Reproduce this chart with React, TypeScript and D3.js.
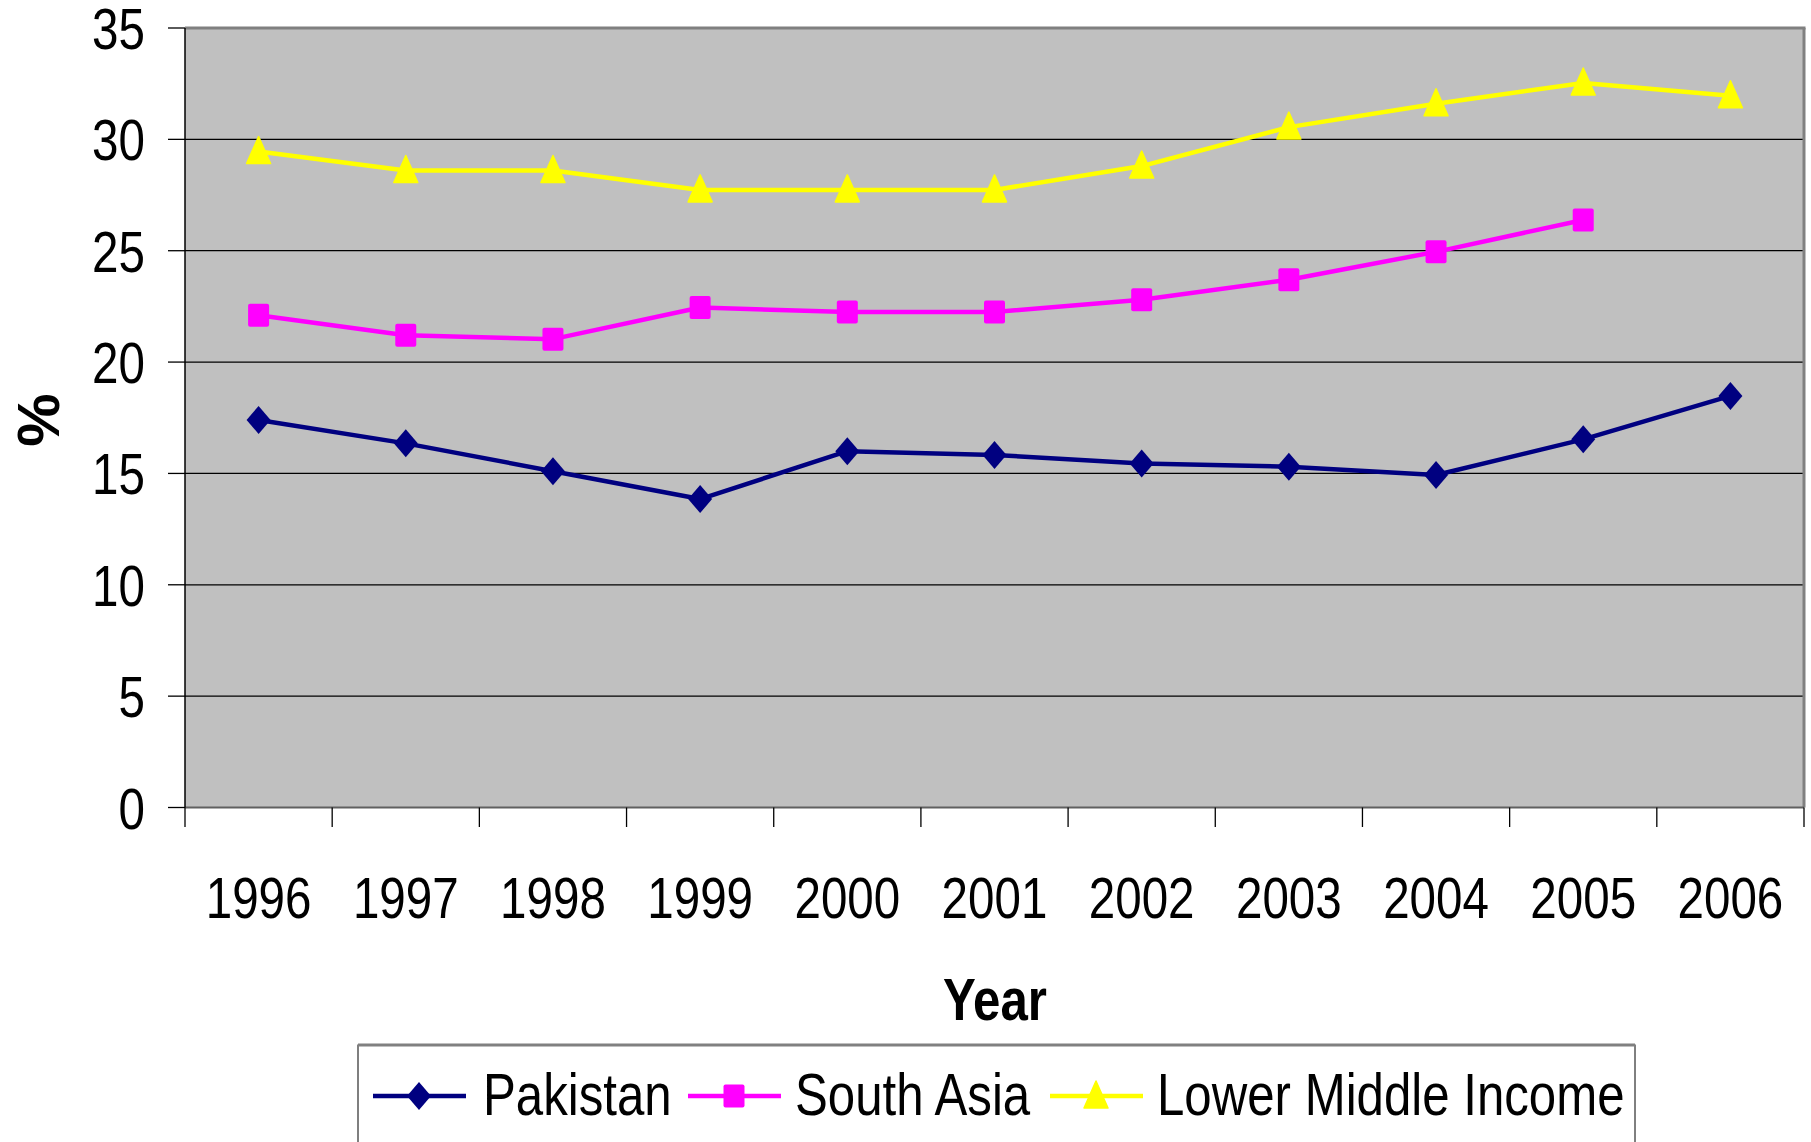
import * as d3 from "d3";

const years = ["1996", "1997", "1998", "1999", "2000", "2001", "2002", "2003", "2004", "2005", "2006"];
const pakistan = [17.4, 16.35, 15.1, 13.85, 16.0, 15.83, 15.45, 15.3, 14.93, 16.53, 18.48];
const southAsia = [22.1, 21.2, 21.03, 22.45, 22.25, 22.25, 22.8, 23.7, 24.95, 26.38];
const lowerMiddle = [29.45, 28.6, 28.6, 27.73, 27.73, 27.73, 28.8, 30.55, 31.6, 32.53, 31.96];
const yTicks = [0, 5, 10, 15, 20, 25, 30, 35];

const seriesNames = ["Pakistan", "South Asia", "Lower Middle Income"];
const seriesColors = ["#000080", "#FF00FF", "#FFFF00"];
const seriesShapes = ["diamond", "square", "triangle"];

const W = 1811;
const H = 1142;
const plot = { left: 185, right: 1804, top: 28, bottom: 807.5 };
const font = "'Liberation Sans', Arial, sans-serif";
const narrow = 0.82;

// condensed text, like Arial Narrow
function NText({ x, y, size, bold, anchor, children }: any) {
  return (
    <text
      transform={`translate(${x},${y}) scale(${narrow},1)`}
      textAnchor={anchor ?? "start"}
      fontFamily={font}
      fontSize={size}
      fontWeight={bold ? "bold" : "normal"}
    >
      {children}
    </text>
  );
}

function Marker({ shape, x, y, color }: { shape: string; x: number; y: number; color: string }) {
  if (shape === "diamond") {
    return <path d={`M${x},${y - 14}L${x + 12},${y}L${x},${y + 14}L${x - 12},${y}Z`} fill={color} />;
  }
  if (shape === "square") {
    return <rect x={x - 10.5} y={y - 11.5} width={21} height={23} rx={2} fill={color} />;
  }
  return <path d={`M${x},${y - 15}L${x + 12},${y + 12}L${x - 12},${y + 12}Z`} fill={color} strokeLinejoin="round" stroke={color} strokeWidth={1.5} />;
}

export default function App() {
  const x = d3.scaleBand<string>().domain(years).range([plot.left, plot.right]).padding(0);
  const y = d3.scaleLinear().domain([0, 35]).range([plot.bottom, plot.top]);
  const cx = (yr: string) => (x(yr) ?? 0) + x.bandwidth() / 2;

  const line = d3
    .line<number>()
    .x((_, i) => cx(years[i]))
    .y(d => y(d));

  const data = [pakistan, southAsia, lowerMiddle];

  const legendItems = [
    { lx: 373, tx: 483 },
    { lx: 688, tx: 795 },
    { lx: 1050, tx: 1157 },
  ];

  return (
    <svg width={W} height={H} style={{ position: "absolute", left: 0, top: 0, background: "#fff" }}>
      {/* plot area */}
      <rect x={plot.left} y={plot.top} width={plot.right - plot.left} height={plot.bottom - plot.top} fill="#C0C0C0" />
      {yTicks.slice(1, -1).map(t => (
        <line key={t} x1={plot.left} x2={plot.right} y1={y(t)} y2={y(t)} stroke="#000" strokeWidth={1.3} />
      ))}
      <line x1={plot.left} x2={plot.right + 1.5} y1={plot.top} y2={plot.top} stroke="#808080" strokeWidth={3} />
      <line x1={plot.right} x2={plot.right} y1={plot.top} y2={plot.bottom} stroke="#808080" strokeWidth={3} />
      <line x1={plot.left} x2={plot.right} y1={plot.bottom} y2={plot.bottom} stroke="#606060" strokeWidth={2} />
      <line x1={plot.left} x2={plot.left} y1={plot.top} y2={plot.bottom} stroke="#000" strokeWidth={1.5} />

      {/* y axis */}
      {yTicks.map(t => (
        <g key={t}>
          <line x1={168} x2={plot.left} y1={y(t)} y2={y(t)} stroke="#000" strokeWidth={1.3} />
          <NText x={145} y={y(t) + 21} size={58} anchor="end">
            {t}
          </NText>
        </g>
      ))}

      {/* x axis */}
      {[...years.map(yr => x(yr) ?? 0), plot.right].map((px, i) => (
        <line key={i} x1={px} x2={px} y1={plot.bottom} y2={827} stroke="#000" strokeWidth={1.3} />
      ))}
      {years.map(yr => (
        <NText key={yr} x={cx(yr)} y={918} size={58} anchor="middle">
          {yr}
        </NText>
      ))}

      {/* axis titles */}
      <NText x={995} y={1020} size={60} bold anchor="middle">
        Year
      </NText>
      <text transform="translate(59,420) rotate(-90)" textAnchor="middle" fontFamily={font} fontSize={60} fontWeight="bold">
        %
      </text>

      {/* series */}
      {data.map((vals, s) => (
        <g key={s}>
          <path d={line(vals) ?? ""} fill="none" stroke={seriesColors[s]} strokeWidth={4.5} strokeLinejoin="round" />
          {vals.map((v, i) => (
            <Marker key={i} shape={seriesShapes[s]} x={cx(years[i])} y={y(v)} color={seriesColors[s]} />
          ))}
        </g>
      ))}

      {/* legend */}
      <rect x={358} y={1045} width={1277} height={130} fill="#fff" stroke="#000" strokeWidth={1} />
      <line x1={358} x2={1635} y1={1045} y2={1045} stroke="#808080" strokeWidth={3} />
      {legendItems.map((it, s) => (
        <g key={s}>
          <line x1={it.lx} x2={it.lx + 93} y1={1096} y2={1096} stroke={seriesColors[s]} strokeWidth={4.5} />
          <Marker shape={seriesShapes[s]} x={it.lx + 46} y={1096} color={seriesColors[s]} />
          <NText x={it.tx} y={1115} size={60}>
            {seriesNames[s]}
          </NText>
        </g>
      ))}
    </svg>
  );
}
